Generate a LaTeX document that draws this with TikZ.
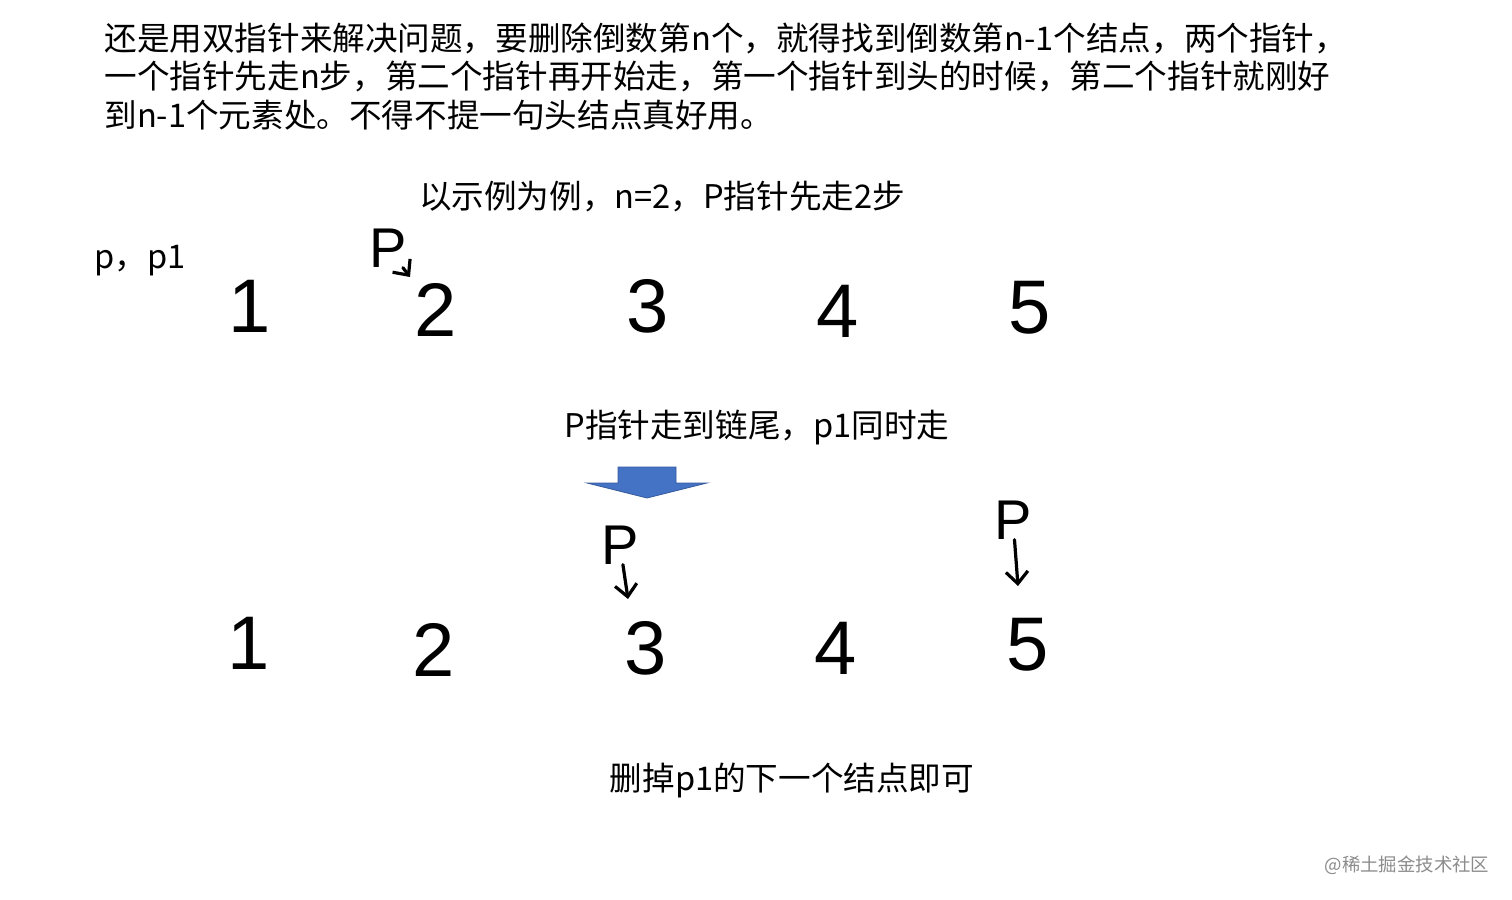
\documentclass[tikz,border=0pt]{standalone}
\usepackage{fontspec}
\setmainfont{Noto Sans CJK SC}
\newfontfamily\handfont{Liberation Sans}
\usetikzlibrary{arrows.meta}
\definecolor{officeblue}{HTML}{4472C4}

\begin{document}
\begin{tikzpicture}[x=0.5pt,y=-0.5pt, inner sep=0pt, >={Straight Barb[length=6pt,width=11pt]},
  txt/.style={font=\fontsize{16.3}{19.3}\selectfont},
  digit/.style={font=\handfont\fontsize{38}{38}\selectfont},
  ptr/.style={font=\handfont\fontsize{28}{28}\selectfont},
  hand/.style={->, line width=1.6pt, line cap=round}]
\useasboundingbox[fill=white] (0,0) rectangle (1512,900);
% explanation
\node (intro) at (104,22) [txt, anchor=north west, align=left]
  {还是用双指针来解决问题，要删除倒数第n个，就得找到倒数第n-1个结点，两个指针，\\
   一个指针先走n步，第二个指针再开始走，第一个指针到头的时候，第二个指针就刚好\\
   到n-1个元素处。不得不提一句头结点真好用。};
\node (example) at (662,197) [txt] {以示例为例，n=2，P指针先走2步};
\node (start) at (94,261) [txt, anchor=west] {p，p1};
% first row
\node (n1) at (250,306) [digit] {1};
\node (n2) at (436,310) [digit] {2};
\node (n3) at (648,306) [digit] {3};
\node (n4) at (838,311) [digit] {4};
\node (n5) at (1030,308) [digit] {5};
\node (pa) at (388,248) [ptr] {P};
\coordinate (ta) at (410,277);
\draw[hand] (pa) -- (ta);
% step
\node (walk) at (757,427) [txt] {P指针走到链尾，p1同时走};
\fill[officeblue, draw=officeblue!80!black, thin] (618,467) -- (676,467) -- (676,483) -- (707,483)
  -- (647,498) -- (587,483) -- (618,483) -- cycle;
% second row
\node (m1) at (249,643) [digit] {1};
\node (m2) at (434,650) [digit] {2};
\node (m3) at (646,648) [digit] {3};
\node (m4) at (836,648) [digit] {4};
\node (m5) at (1028,645) [digit] {5};
\node (pb) at (620,545) [ptr] {P};
\node (pc) at (1013,520) [ptr] {P};
\coordinate (tb) at (628,599);
\coordinate (tc) at (1018,586);
\draw[hand] (pb) -- (tb);
\draw[hand] (pc) -- (tc);
\node (result) at (792,780) [txt] {删掉p1的下一个结点即可};
\node (mark) at (1407,865) [font=\fontsize{9.2}{10}\selectfont, text=black!45] {@稀土掘金技术社区};
\end{tikzpicture}
\end{document}
